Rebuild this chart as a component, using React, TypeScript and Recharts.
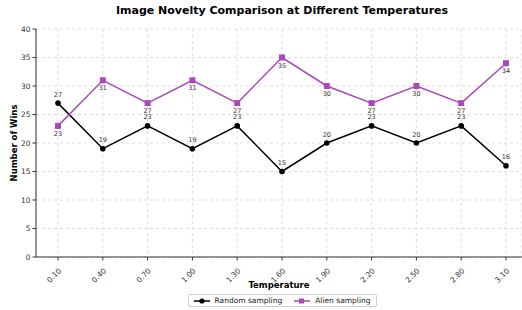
import React from "react";
import {
  LineChart,
  Line,
  XAxis,
  YAxis,
  CartesianGrid,
} from "recharts";

const temperatures = ["0.10", "0.40", "0.70", "1.00", "1.30", "1.60", "1.90", "2.20", "2.50", "2.80", "3.10"];
const randomWins = [27, 19, 23, 19, 23, 15, 20, 23, 20, 23, 16];
const alienWins = [23, 31, 27, 31, 27, 35, 30, 27, 30, 27, 34];
const yTicks = [0, 5, 10, 15, 20, 25, 30, 35, 40];

const data = temperatures.map((t, i) => ({
  temp: t,
  random: randomWins[i],
  alien: alienWins[i],
}));

const FONT = "DejaVu Sans, sans-serif";
const PURPLE = "#AB47BC";

const XTick = (props: any) => {
  const { x, y, payload } = props;
  return (
    <g transform={`translate(${x + 1},${y + 6})`}>
      <text
        transform="rotate(-45)"
        textAnchor="end"
        dy={4}
        fontSize={7.5}
        fontFamily={FONT}
        fill="#333"
      >
        {payload.value}
      </text>
    </g>
  );
};

const SquareDot = (props: any) => {
  const { cx, cy } = props;
  return <rect x={cx - 3} y={cy - 3} width={6} height={6} fill={PURPLE} />;
};

const labelAbove = (props: any) => (
  <text
    x={props.x}
    y={props.y - 6.5}
    textAnchor="middle"
    fontSize={6.5}
    fontFamily={FONT}
    fill="#333"
  >
    {props.value}
  </text>
);

const labelBelow = (props: any) => (
  <text
    x={props.x}
    y={props.y + 10}
    textAnchor="middle"
    fontSize={6.5}
    fontFamily={FONT}
    fill="#333"
  >
    {props.value}
  </text>
);

const LegendBox = () => (
  <div
    style={{
      position: "absolute",
      left: 0,
      top: 294,
      width: 522,
      paddingLeft: 42,
      boxSizing: "border-box",
      display: "flex",
      justifyContent: "center",
      fontFamily: FONT,
      fontSize: 7.5,
      color: "#222",
    }}
  >
    <div
      style={{
        display: "flex",
        alignItems: "center",
        gap: 12,
        border: "1px solid #ccc",
        borderRadius: 2,
        padding: "1px 5px",
        background: "#fff",
      }}
    >
      <span style={{ display: "flex", alignItems: "center", gap: 5 }}>
        <svg width={16} height={8}>
          <line x1={0} y1={4} x2={16} y2={4} stroke="#000" strokeWidth={1.5} />
          <circle cx={8} cy={4} r={2.6} fill="#000" />
        </svg>
        Random sampling
      </span>
      <span style={{ display: "flex", alignItems: "center", gap: 5 }}>
        <svg width={16} height={8}>
          <line x1={0} y1={4} x2={16} y2={4} stroke={PURPLE} strokeWidth={1.5} />
          <rect x={5} y={1.5} width={5} height={5} fill={PURPLE} />
        </svg>
        Alien sampling
      </span>
    </div>
  </div>
);

export default function App() {
  return (
    <div style={{ position: "absolute", left: 0, top: 0, width: 522, height: 310, background: "#fff" }}>
      <LineChart
        width={522}
        height={310}
        data={data}
        margin={{ top: 29, right: 0, left: 0, bottom: 0 }}
      >
        <CartesianGrid stroke="#ddd" strokeDasharray="3 3" />
        <XAxis
          dataKey="temp"
          padding={{ left: 22, right: 16 }}
          tick={<XTick />}
          tickSize={3.5}
          stroke="#333"
          height={53}
          interval={0}
        />
        <YAxis
          domain={[0, 40]}
          ticks={yTicks}
          width={36}
          tickSize={3.5}
          stroke="#333"
          tick={{ fontSize: 7.5, fontFamily: FONT, fill: "#333" }}
          interval={0}
        />
        <Line
          dataKey="random"
          name="Random sampling"
          stroke="#000"
          strokeWidth={1.5}
          dot={{ r: 2.8, fill: "#000", stroke: "#000", strokeWidth: 0 }}
          label={labelAbove}
          isAnimationActive={false}
        />
        <Line
          dataKey="alien"
          name="Alien sampling"
          stroke={PURPLE}
          strokeWidth={1.5}
          dot={<SquareDot />}
          label={labelBelow}
          isAnimationActive={false}
        />
      </LineChart>
      <div
        style={{
          position: "absolute",
          top: 4,
          left: 0,
          width: 522,
          paddingLeft: 42,
          boxSizing: "border-box",
          textAlign: "center",
          fontFamily: FONT,
          fontWeight: "bold",
          fontSize: 11,
        }}
      >
        Image Novelty Comparison at Different Temperatures
      </div>
      <div
        style={{
          position: "absolute",
          left: 14,
          top: 143,
          transform: "translate(-50%, -50%) rotate(-90deg)",
          whiteSpace: "nowrap",
          fontFamily: FONT,
          fontWeight: "bold",
          fontSize: 8.5,
        }}
      >
        Number of Wins
      </div>
      <div
        style={{
          position: "absolute",
          top: 280,
          left: 36,
          width: 486,
          textAlign: "center",
          fontFamily: FONT,
          fontWeight: "bold",
          fontSize: 8.5,
        }}
      >
        Temperature
      </div>
      <LegendBox />
    </div>
  );
}
